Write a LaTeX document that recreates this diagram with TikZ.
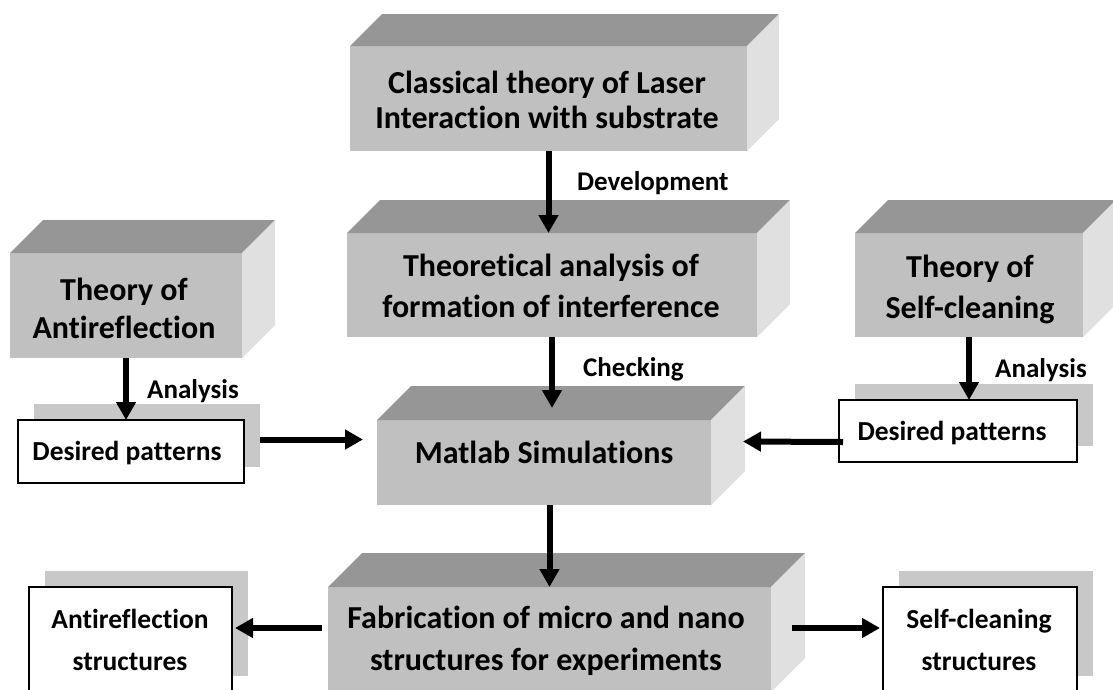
\documentclass[tikz,border=0pt]{standalone}
\usepackage{fontspec}
\setmainfont{Carlito}[Ligatures=NoCommon]
\usetikzlibrary{arrows.meta,calc,shadows}
\definecolor{frontc}{RGB}{192,192,192}
\definecolor{topc}{RGB}{150,150,150}
\definecolor{sidec}{RGB}{224,224,224}
\definecolor{shadc}{RGB}{200,200,200}
\newcommand\threedbox[6]{%
  \node[face, minimum width={#4-#2}, minimum height={#5-#3}] (#1) at ({(#2+#4)/2},{(#3+#5)/2}) {};
  \fill[topc] (#1.north west) -- ++(#6,-#6) -- ([shift={(#6,-#6)}]#1.north east) -- (#1.north east) -- cycle;
  \fill[sidec] (#1.north east) -- ++(#6,-#6) -- ([shift={(#6,-#6)}]#1.south east) -- (#1.south east) -- cycle;
}
\newcommand\whitebox[5]{%
  \node[wbox, minimum width={#4-#2}, minimum height={#5-#3}] (#1) at ({(#2+#4)/2},{(#3+#5)/2}) {};
}
\tikzset{
  face/.style={rectangle, fill=frontc, draw=none, inner sep=0pt, outer sep=0pt},
  wbox/.style={rectangle, fill=white, draw=black, line width=1.8pt, inner sep=0pt, outer sep=0pt,
    drop shadow={shadow xshift=16pt, shadow yshift=16pt, fill=shadc, opacity=1}},
  bigtext/.style={anchor=base, align=center, inner sep=0pt, font=\bfseries\fontsize{32}{#1}\selectfont},
  smalltext/.style={anchor=base, align=center, inner sep=0pt, font=\bfseries\fontsize{27.5}{#1}\selectfont},
  lbl/.style={anchor=base west, inner sep=0pt, font=\bfseries\fontsize{27}{32}\selectfont},
  arr/.style={line width=6pt, -{Triangle[length=18pt,width=19pt]}},
}
\begin{document}
\begin{tikzpicture}[x=1pt,y=-1pt]
\useasboundingbox (0,0) rectangle (1113,689);
\clip (0,0) rectangle (1113,689);
% 3D boxes
\threedbox{classical}{350}{46}{747}{151}{32}
\threedbox{theo}{347}{233}{757}{337}{33}
\threedbox{antiT}{10}{253}{242}{358}{33}
\threedbox{selfT}{855}{233}{1083}{337}{33}
\threedbox{matlab}{377}{420}{711}{505}{34}
\threedbox{fab}{328}{587}{771}{692}{34}
% white boxes
\whitebox{desL}{18}{420}{244}{483}
\whitebox{desR}{839}{400}{1077}{462}
\whitebox{antiS}{29}{587}{232}{692}
\whitebox{selfS}{883}{587}{1077}{692}
% texts (anchor base = baseline of the last line)
\node[bigtext=35] (classical-t) at (547,128) {Classical theory of Laser\\Interaction with substrate};
\node[bigtext=41] (theo-t) at (551,317) {Theoretical analysis of\\formation of interference};
\node[bigtext=38] (antiT-t) at (124,338) {Theory of\\Antireflection};
\node[bigtext=41] (selfT-t) at (970,318) {Theory of\\Self-cleaning};
\node[bigtext=38] (matlab-t) at (544,463) {Matlab Simulations};
\node[bigtext=42] (fab-t) at (546,670) {Fabrication of micro and nano\\structures for experiments};
\node[smalltext=30] (desL-t) at (127,460) {Desired patterns};
\node[smalltext=30] (desR-t) at (952,440) {Desired patterns};
\node[smalltext=42] (antiS-t) at (130,670) {Antireflection\\structures};
\node[smalltext=42] (selfS-t) at (979,670) {Self-cleaning\\structures};
% labels
\node[lbl] (dev) at (577,190) {Development};
\node[lbl] (chk) at (583,376) {Checking};
\node[lbl] (anaL) at (147,398) {Analysis};
\node[lbl] (anaR) at (995,377) {Analysis};
% connectors
\draw[arr] (classical.south) -- (classical.south |- theo.north);
\draw[arr] (theo.south) -- ([yshift=12pt]theo.south |- matlab.north);
\draw[arr] (fab.north |- matlab.south) -- (fab.north);
\draw[arr] (antiT.south) -- (antiT.south |- desL.north);
\draw[arr] (selfT.south) -- (selfT.south |- desR.north);
\draw[arr] ([shift={(16,-12)}]desL.east) -- ([shift={(-14,-23)}]matlab.west);
\draw[arr] ([shift={(4,11)}]desR.west) -- ([shift={(32,-21)}]matlab.east);
\draw[arr] ([shift={(-6,-11.5)}]fab.west) -- ([shift={(3,-11.5)}]antiS.east);
\draw[arr] ([shift={(21,-11.5)}]fab.east) -- ([shift={(-3,-11.5)}]selfS.west);
\end{tikzpicture}
\end{document}
